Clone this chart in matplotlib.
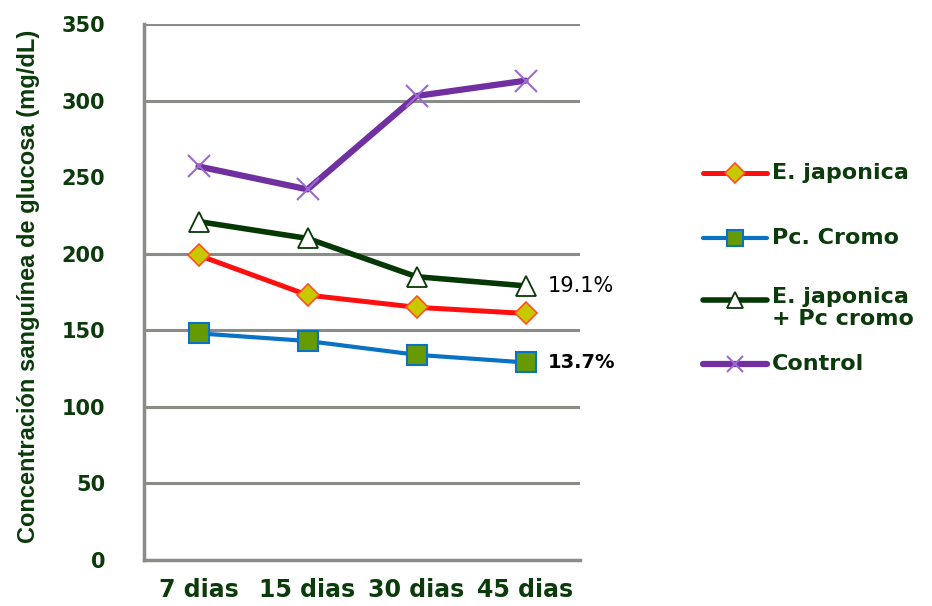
import matplotlib
matplotlib.use("Agg")
import matplotlib.pyplot as plt
from matplotlib.lines import Line2D

# glucose readings (mg/dL) per sampling day
dias = ["7 dias", "15 dias", "30 dias", "45 dias"]
japonica = [199, 173, 165, 161]
cromo = [148, 143, 134, 129]
combinado = [221, 210, 185, 179]
control = [257, 242, 303, 313]

yticks = [0, 50, 100, 150, 200, 250, 300, 350]
grid_at = [50, 100, 150, 200, 300, 350]

texto = "#0b3b0b"
gris = "#8a8c88"

fig = plt.figure(figsize=(9.32, 6.06), dpi=100)
ax = fig.add_axes([144 / 932, 1 - 560 / 606, 436 / 932, 536 / 606])

x = [i + 0.5 for i in range(len(dias))]

series = [
    (japonica, "E. japonica", dict(color="#ff1010", lw=3.6, marker="D", ms=11,
                                    mfc="#c8c800", mec="#ff5020", mew=1.2)),
    (cromo, "Pc. Cromo", dict(color="#0a72c4", lw=3.0, marker="s", ms=15,
                              mfc="#659a00", mec="#0a72c4", mew=1.5)),
    (combinado, "E. japonica\n+ Pc cromo", dict(color="#053805", lw=4.0, marker="^", ms=14,
                                                 mfc="white", mec="#053805", mew=1.3)),
    (control, "Control", dict(color="#7030a0", lw=4.5, marker="x", ms=16,
                              mec="#9a6ad0", mew=1.5)),
]

for vals, name, style in series:
    ax.plot(x, vals, solid_capstyle="round", zorder=3, **style)

# percentage notes next to the last points
ax.annotate("19.1%", (x[-1], combinado[-1]), xytext=(16, 0), textcoords="offset points",
            va="center", ha="left", fontsize=15, color="black")
ax.annotate("13.7%", (x[-1], cromo[-1]), xytext=(16, 0), textcoords="offset points",
            va="center", ha="left", fontsize=14, fontweight="bold", color="black")

ax.set_xlim(0, len(dias))
ax.set_ylim(0, 350)
ax.set_xticks(x)
ax.set_xticklabels(dias, fontsize=17, fontweight="bold", color=texto)
ax.set_yticks(yticks)
ax.set_yticklabels([str(v) for v in yticks], fontsize=15, fontweight="bold", color=texto)
ax.tick_params(axis="both", length=0)
ax.tick_params(axis="y", pad=28)
ax.tick_params(axis="x", pad=13)

for g in grid_at:
    ax.axhline(g, color=gris, lw=2.2, zorder=1)

for side in ["top", "right"]:
    ax.spines[side].set_visible(False)
for side in ["left", "bottom"]:
    ax.spines[side].set_color(gris)
    ax.spines[side].set_linewidth(2.5)

ax.set_ylabel("Concentración sanguínea de glucosa (mg/dL)", fontsize=17,
              fontweight="bold", color=texto, family="Liberation Sans")
ax.yaxis.set_label_coords(-104 / 436, 0.51)

# legend drawn by hand on the right side
leg_y = [173, 238, 300, 364]
leg_ms = [10, 11, 11, 12]
for (vals, name, style), yy, ms in zip(series, leg_y, leg_ms):
    yf = 1 - yy / 606
    linea = {k: v for k, v in style.items() if k in ("color", "lw")}
    punto = {k: v for k, v in style.items() if k not in ("color", "lw")}
    punto["ms"] = ms
    fig.add_artist(Line2D([703 / 932, 767 / 932], [yf, yf], transform=fig.transFigure,
                          solid_capstyle="round", **linea))
    fig.add_artist(Line2D([735 / 932], [yf], transform=fig.transFigure, ls="none",
                          color=style["color"], **punto))
    if "\n" in name:
        fig.text(772 / 932, yf + 13 / 606, name, fontsize=16, fontweight="bold",
                 color=texto, va="top", ha="left", linespacing=1.15)
    else:
        fig.text(772 / 932, yf, name, fontsize=16, fontweight="bold",
                 color=texto, va="center", ha="left")

fig.savefig("out.png", dpi=100)
